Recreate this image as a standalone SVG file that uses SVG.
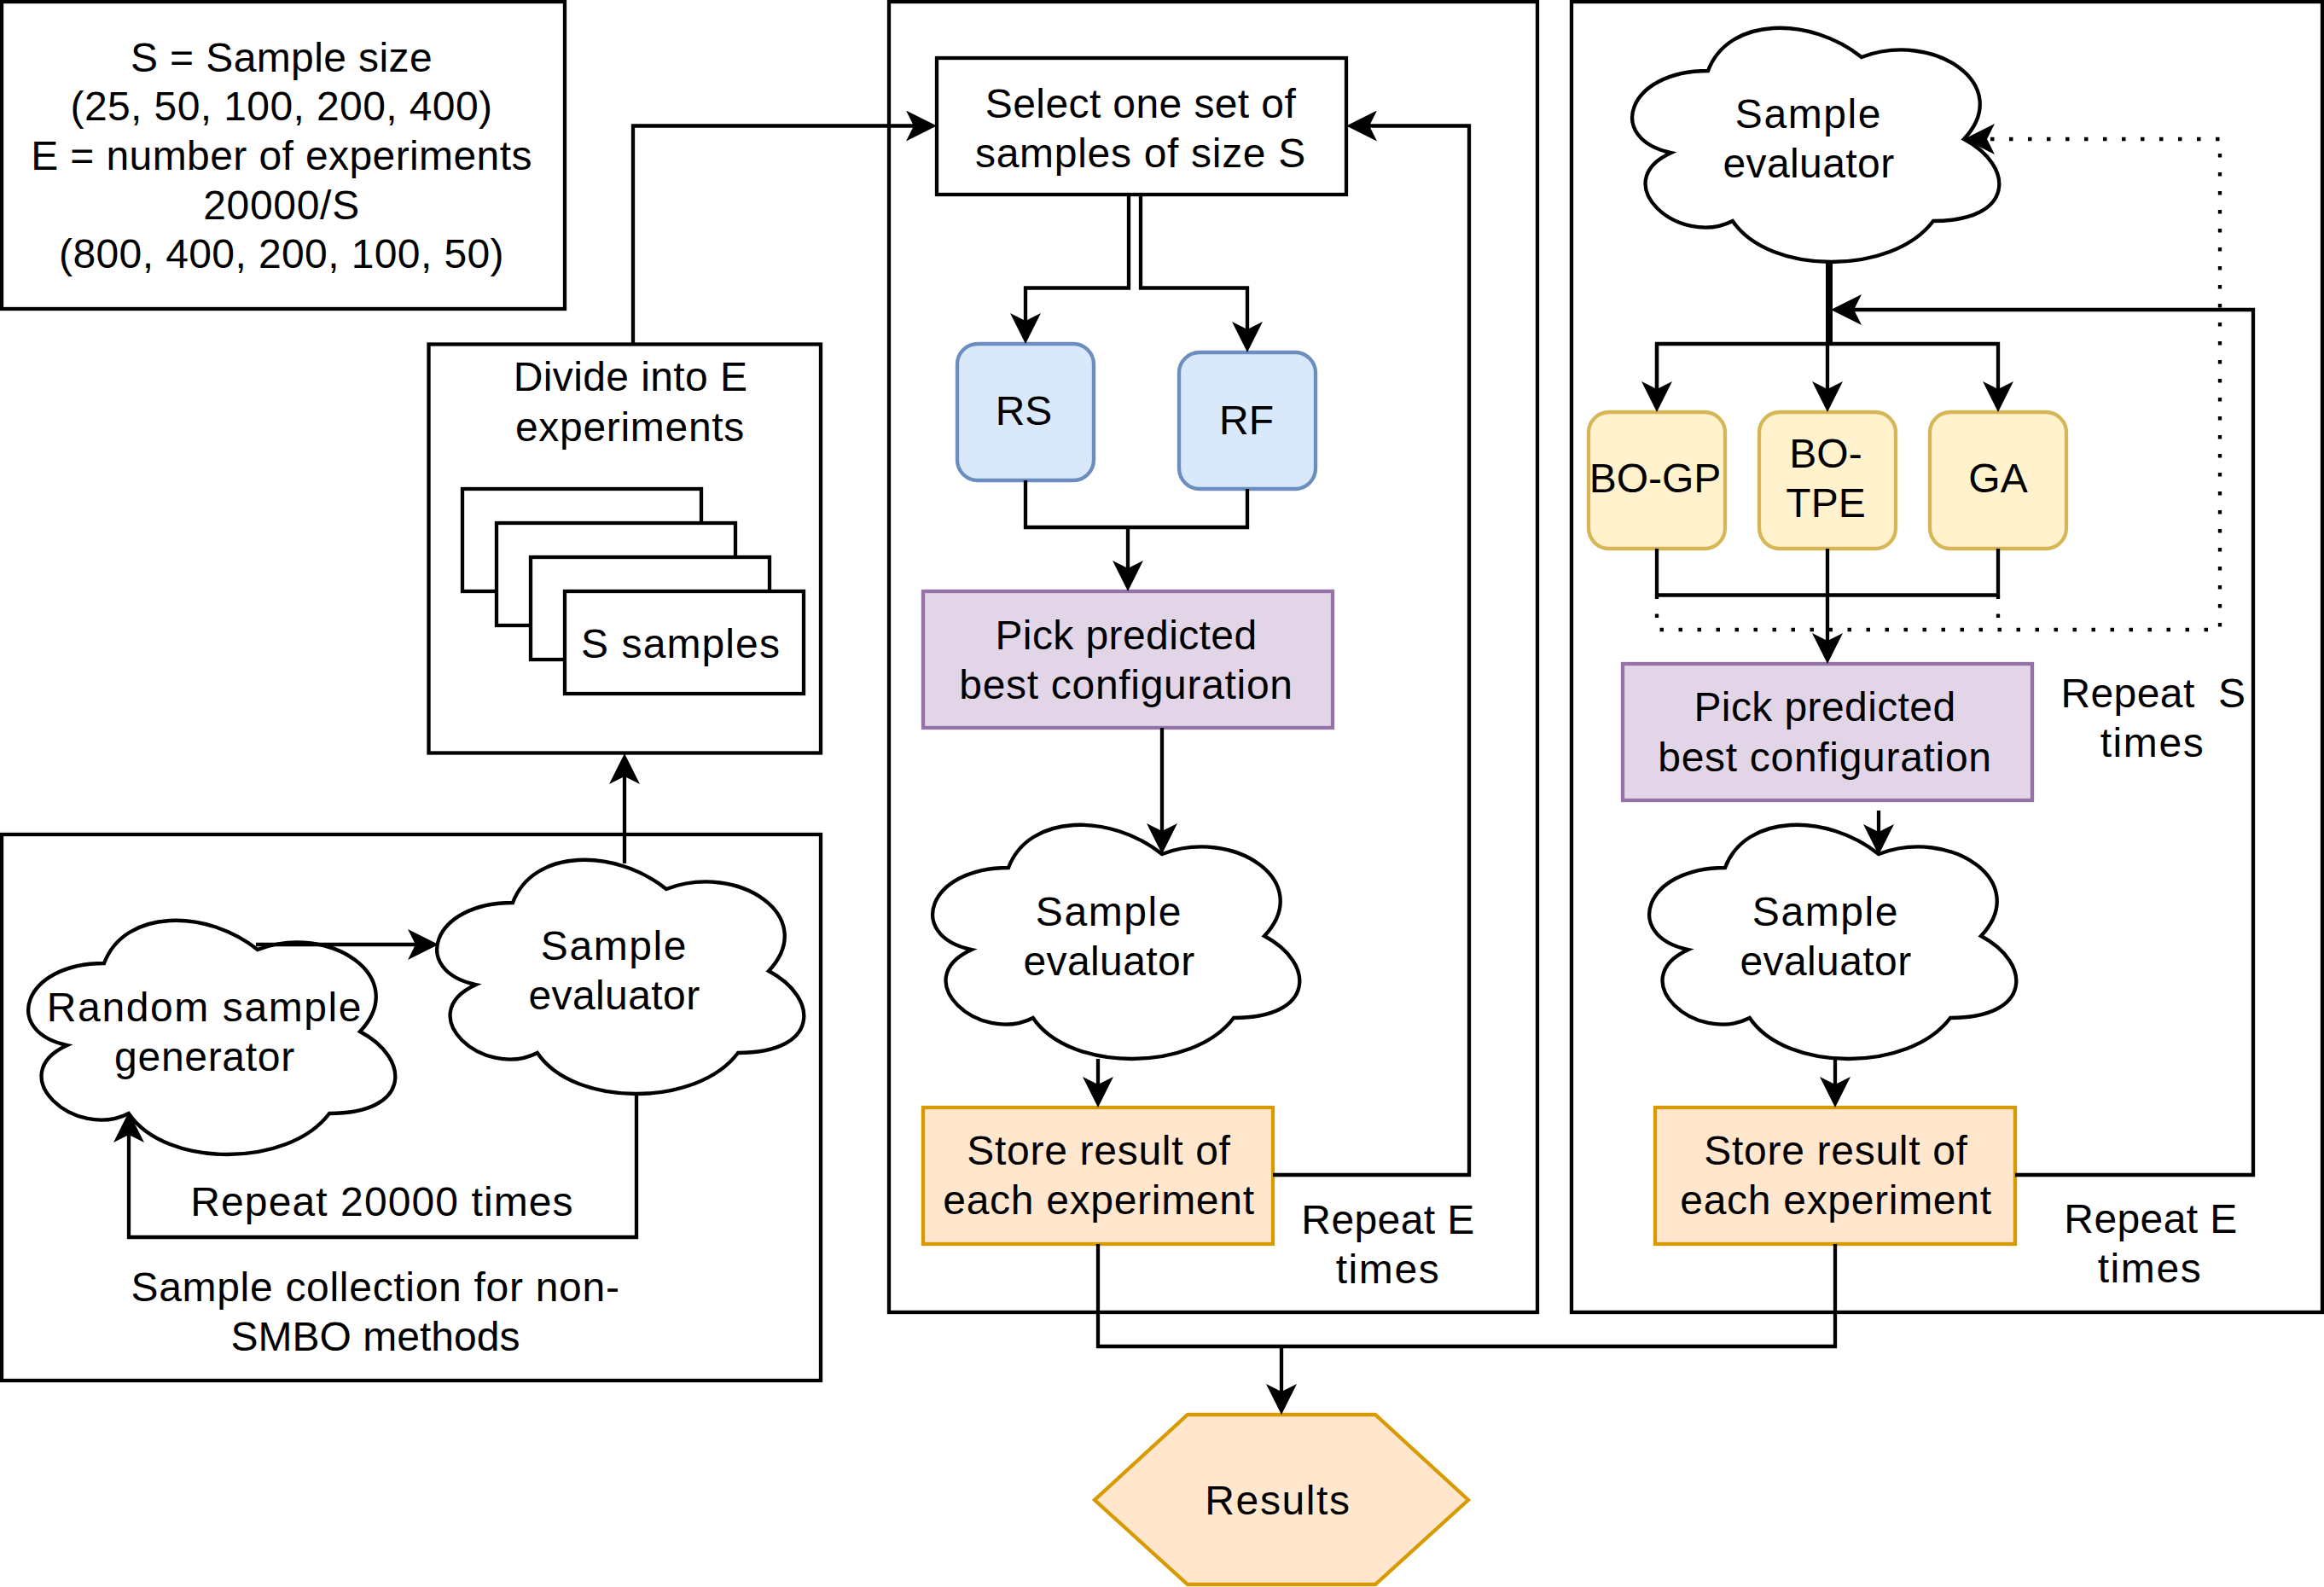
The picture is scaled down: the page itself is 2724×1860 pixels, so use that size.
<svg xmlns="http://www.w3.org/2000/svg" width="2724" height="1860" viewBox="0 0 2724 1860">
  <style>
    text { font-family: "Liberation Sans", Arial, sans-serif; font-size: 48px; fill: #000; text-anchor: middle; white-space: pre; }
    .s1 { letter-spacing: 0.4px; }
    .s2 { letter-spacing: 0.7px; }
    .s3 { letter-spacing: 1.1px; }
    .s4 { letter-spacing: 1.6px; }
    .box { fill: #fff; stroke: #000; stroke-width: 4.3; }
    .panel { fill: none; stroke: #000; stroke-width: 4.3; }
    .cloud { fill: #fff; stroke: #000; stroke-width: 4.3; }
    .blue { fill: #dae8fc; stroke: #6c8ebf; stroke-width: 4.3; }
    .yellow { fill: #fff2cc; stroke: #d6b656; stroke-width: 4.3; }
    .purple { fill: #e1d5e7; stroke: #9673a6; stroke-width: 4.3; }
    .orange { fill: #ffe6cc; stroke: #d79b00; stroke-width: 4.3; }
    .link { fill: none; stroke: #000; stroke-width: 4.3; }
    .thick { stroke-width: 8; }
    .dotted { stroke-dasharray: 4.5 17.5; }
  </style>
  <defs>
    <marker id="arrow" markerUnits="userSpaceOnUse" markerWidth="36" markerHeight="36" viewBox="0 0 36 36" refX="10" refY="18" orient="auto">
      <path d="M36 18 L0 0 L9 18 L0 36 Z" fill="#000"/>
    </marker>
    <path id="cloud-shape" class="cloud" d="M120 80 C24 80 0 160 76.800 176 C0 211.200 86.400 288 148.800 256 C192 320 336 320 384 256 C480 256 480 192 420 160 C480 96 384 32 300 64 C240 16 144 16 120 80 Z"/>
  </defs>

  <g id="panel-parameters">
    <rect class="box" x="2" y="2" width="660" height="360"/>
    <text class="s1" x="330" y="84">S = Sample size</text>
    <text class="s1" x="330" y="141">(25, 50, 100, 200, 400)</text>
    <text class="s1" x="330" y="199">E = number of experiments</text>
    <text class="s2" x="330" y="256.500">20000/S</text>
    <text class="s1" x="330" y="314">(800, 400, 200, 100, 50)</text>
  </g>
  <g id="panel-collection">
    <rect class="panel" x="2" y="978" width="960" height="640"/>
    <text class="s2" x="440" y="1525">Sample collection for non-</text>
    <text x="440" y="1582.500">SMBO methods</text>
    <text class="s3" x="448" y="1425">Repeat 20000 times</text>
  </g>
  <g id="panel-non-smbo">
    <rect class="panel" x="1042" y="2" width="760" height="1536"/>
    <text class="s1" x="1627" y="1445.500">Repeat E</text>
    <text class="s4" x="1627" y="1504">times</text>
  </g>
  <g id="panel-smbo">
    <rect class="panel" x="1842" y="2" width="880" height="1536"/>
    <text class="s1" x="2524" y="829">Repeat  S</text>
    <text class="s4" x="2523" y="886.500">times</text>
    <text class="s1" x="2521" y="1444.500">Repeat E</text>
    <text class="s4" x="2520" y="1502.500">times</text>
  </g>

  <g id="divide-experiments">
    <rect class="box" x="502.500" y="403.500" width="459.500" height="479"/>
    <text class="s1" x="739" y="458">Divide into E</text>
    <text class="s2" x="738.500" y="516.500">experiments</text>
    <rect class="box" x="542" y="573" width="280" height="120"/>
    <rect class="box" x="582" y="613" width="280" height="120"/>
    <rect class="box" x="622" y="653" width="280" height="120"/>
    <rect class="box" x="662" y="693" width="280" height="120"/>
    <text class="s3" x="798" y="770.500">S samples</text>
  </g>

  <g id="random-generator">
    <use href="#cloud-shape" x="2" y="1049"/>
    <text class="s4" x="240" y="1197">Random sample</text>
    <text class="s2" x="240" y="1255">generator</text>
  </g>
  <g id="evaluator-collection">
    <use href="#cloud-shape" x="481" y="978"/>
    <text class="s4" x="720" y="1124.500">Sample</text>
    <text class="s1" x="720" y="1182.500">evaluator</text>
  </g>

  <g id="select-samples">
    <rect class="box" x="1098" y="68" width="480" height="160"/>
    <text class="s1" x="1337" y="137.500">Select one set of</text>
    <text class="s2" x="1337" y="195.500">samples of size S</text>
  </g>
  <g id="rs">
    <rect class="blue" x="1122" y="403" width="160" height="160" rx="24"/>
    <text x="1200" y="497.500">RS</text>
  </g>
  <g id="rf">
    <rect class="blue" x="1382" y="413" width="160" height="160" rx="24"/>
    <text x="1461" y="509">RF</text>
  </g>
  <g id="pick-non-smbo">
    <rect class="purple" x="1082" y="693" width="480" height="160"/>
    <text class="s1" x="1320" y="761">Pick predicted</text>
    <text class="s2" x="1320" y="819">best configuration</text>
  </g>
  <g id="evaluator-non-smbo">
    <use href="#cloud-shape" x="1062" y="937"/>
    <text class="s4" x="1300" y="1085">Sample</text>
    <text class="s1" x="1300" y="1143">evaluator</text>
  </g>
  <g id="store-non-smbo">
    <rect class="orange" x="1082" y="1298" width="410" height="160"/>
    <text class="s2" x="1288" y="1364.500">Store result of</text>
    <text class="s2" x="1288" y="1422.500">each experiment</text>
  </g>

  <g id="evaluator-smbo">
    <use href="#cloud-shape" x="1882" y="3"/>
    <text class="s4" x="2120" y="149.500">Sample</text>
    <text class="s1" x="2120" y="207.500">evaluator</text>
  </g>
  <g id="bo-gp">
    <rect class="yellow" x="1862" y="483" width="160" height="160" rx="24"/>
    <text x="1940" y="577">BO-GP</text>
  </g>
  <g id="bo-tpe">
    <rect class="yellow" x="2062" y="483" width="160" height="160" rx="24"/>
    <text x="2140" y="548">BO-</text>
    <text x="2140" y="606">TPE</text>
  </g>
  <g id="ga">
    <rect class="yellow" x="2262" y="483" width="160" height="160" rx="24"/>
    <text x="2342" y="577">GA</text>
  </g>
  <g id="pick-smbo">
    <rect class="purple" x="1902" y="778" width="480" height="160"/>
    <text class="s1" x="2139" y="845">Pick predicted</text>
    <text class="s2" x="2139" y="903.500">best configuration</text>
  </g>
  <g id="evaluator-smbo-2">
    <use href="#cloud-shape" x="1902" y="937"/>
    <text class="s4" x="2140" y="1085">Sample</text>
    <text class="s1" x="2140" y="1143">evaluator</text>
  </g>
  <g id="store-smbo">
    <rect class="orange" x="1940" y="1298" width="422" height="160"/>
    <text class="s2" x="2152" y="1364.500">Store result of</text>
    <text class="s2" x="2152" y="1422.500">each experiment</text>
  </g>

  <g id="results">
    <polygon class="orange" points="1392,1658 1612,1658 1721,1758 1612,1857 1392,1857 1283,1758"/>
    <text class="s4" x="1498" y="1774.500">Results</text>
  </g>

  <g id="connectors">
    <!-- sample collection -->
    <path class="link" d="M300 1107 H488" marker-end="url(#arrow)"/>
    <path class="link" d="M746 1283 V1450 H151 V1329" marker-end="url(#arrow)"/>
    <path class="link" d="M732 1012 V909" marker-end="url(#arrow)"/>
    <path class="link" d="M742 403 V147.500 H1072" marker-end="url(#arrow)"/>
    <!-- non-SMBO loop -->
    <path class="link" d="M1492 1377 H1722 V147.500 H1604" marker-end="url(#arrow)"/>
    <path class="link" d="M1323 228 V337.500 H1202 V377" marker-end="url(#arrow)"/>
    <path class="link" d="M1337 228 V337.500 H1462 V387" marker-end="url(#arrow)"/>
    <path class="link" d="M1202 563 V618 H1462 V573"/>
    <path class="link" d="M1322 618 V667" marker-end="url(#arrow)"/>
    <path class="link" d="M1362 853 V975" marker-end="url(#arrow)"/>
    <path class="link" d="M1287 1241 V1272" marker-end="url(#arrow)"/>
    <!-- results -->
    <path class="link" d="M1287 1458 V1578 H2151 V1458"/>
    <path class="link" d="M1502 1578 V1632" marker-end="url(#arrow)"/>
    <!-- SMBO loop -->
    <path class="link thick" d="M2144 307 V403"/>
    <path class="link" d="M1942 457 V403 H2342 V457" marker-end="url(#arrow)"/>
    <path class="link" d="M1942 403 V457" marker-end="url(#arrow)"/>
    <path class="link" d="M2142 403 V457" marker-end="url(#arrow)"/>
    <path class="link" d="M2362 1377 H2641 V363 H2172" marker-end="url(#arrow)"/>
    <path class="link" d="M1942 643 V697.500 H2342 V643"/>
    <path class="link" d="M2142 643 V752" marker-end="url(#arrow)"/>
    <path class="link dotted" d="M1942 697.500 V738 H2602 V163 H2328" marker-end="url(#arrow)"/>
    <path class="link dotted" d="M2342 697.500 V738"/>
    <path class="link" d="M2202 950 V976" marker-end="url(#arrow)"/>
    <path class="link" d="M2151 1241 V1272" marker-end="url(#arrow)"/>
  </g>
</svg>
